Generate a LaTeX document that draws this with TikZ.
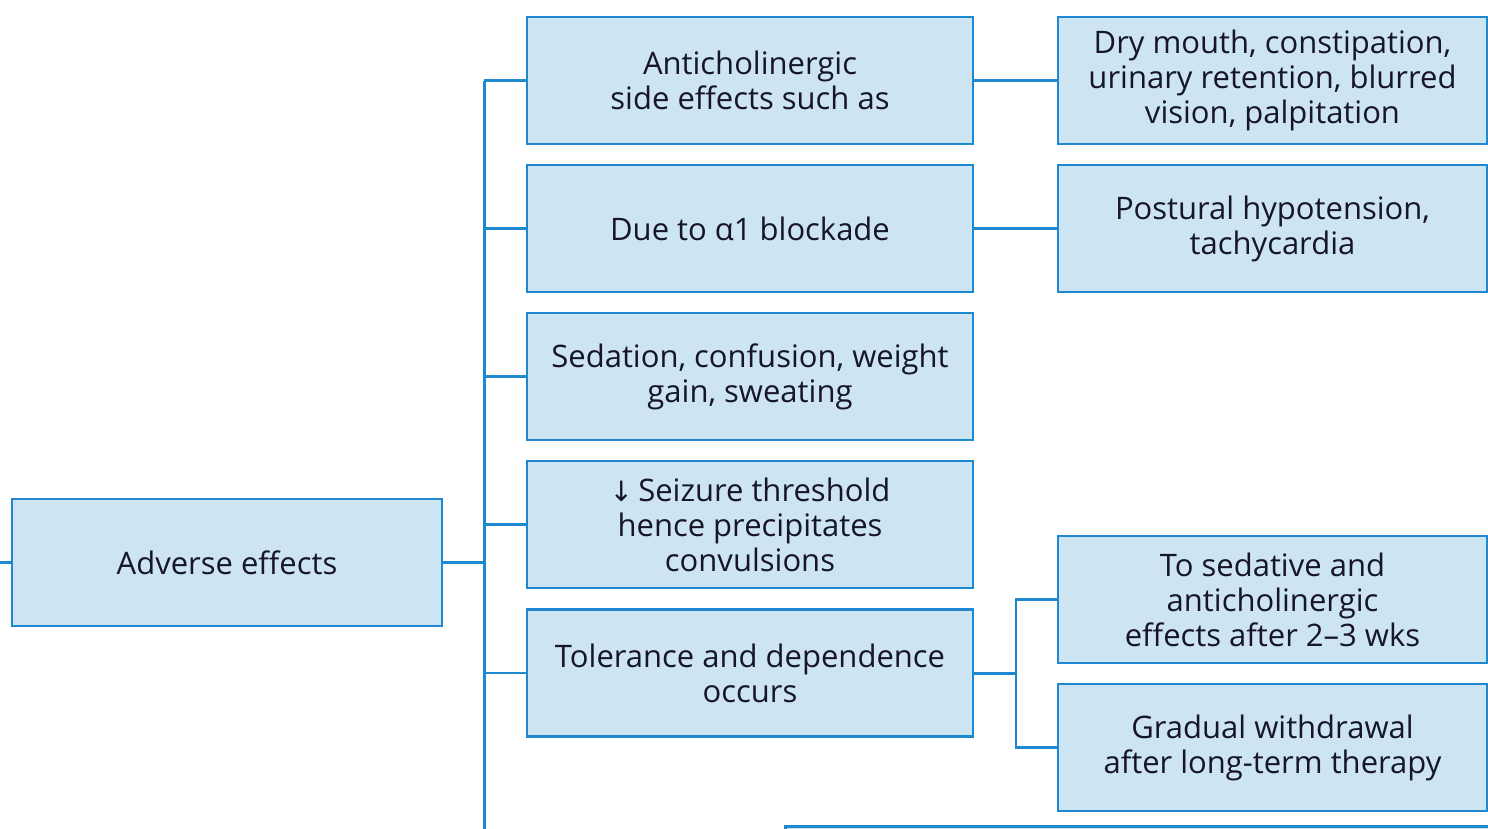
\documentclass[tikz,border=0pt]{standalone}
\usepackage{fontspec}
\setmainfont{Open Sans}
\newfontfamily\arrowfont{DejaVu Sans}
\begin{document}
\definecolor{boxfill}{RGB}{205,228,243}
\definecolor{boxline}{RGB}{30,136,208}
\definecolor{ink}{RGB}{22,22,40}
\begin{tikzpicture}[x=1pt,y=-1pt,
  item/.style={draw=boxline, fill=boxfill, line width=2.6pt, minimum height=127pt,
    inner sep=0pt, align=center, font=\fontsize{31}{35}\selectfont, text=ink},
  midbox/.style={item, minimum width=446pt},
  rightbox/.style={item, minimum width=429pt},
  link/.style={draw=boxline, line width=2.4pt},
  trunk/.style={draw=boxline, line width=3pt}]
\useasboundingbox (0,0) rectangle (1488,828);
\clip (0,0) rectangle (1488,828);

% root
\node[item, minimum width=430pt] (root) at (227,562.5) {Adverse effects};
\coordinate (stub) at (0,562.5);

% middle column
\node[midbox] (m1) at (750,80.5) {Anticholinergic\\side effects such as};
\node[midbox] (m2) at (750,228.5) {Due to α1 blockade};
\node[midbox] (m3) at (750,376.5) {Sedation, confusion, weight\\gain, sweating};
\node[midbox] (m4) at (750,524.5) {{\arrowfont\fontsize{28}{35}\selectfont↓}\,Seizure threshold\\hence precipitates\\convulsions};
\node[midbox] (m5) at (750,673) {Tolerance and dependence\\occurs};

% right column
\node[rightbox] (r1) at (1272.5,80.5) {Dry mouth, constipation,\\urinary retention, blurred\\vision, palpitation};
\node[rightbox] (r2) at (1272.5,228.5) {Postural hypotension,\\tachycardia};
\node[rightbox] (r3) at (1272.5,599.5) {To sedative and\\anticholinergic\\effects after 2–3 wks};
\node[rightbox] (r4) at (1272.5,747.5) {Gradual withdrawal\\after long-term therapy};

% partially visible box along the bottom edge
\node[item, minimum width=706pt, anchor=north west] (r5) at (784,825) {};

% trunk and branches
\coordinate (ttop) at (484,80.5);
\coordinate (tbot) at (484,840);
\draw[link] (stub) -- (root.west);
\draw[trunk] (root.east) -- (484,562.5);
\draw[trunk] (ttop) -- (tbot);
\foreach \n in {m1,m2,m3,m4,m5}
  \draw[link] (ttop |- \n.west) -- (\n.west);

\draw[link] (m1.east) -- (r1.west);
\draw[link] (m2.east) -- (r2.west);

\coordinate (fork) at (1016,673);
\draw[trunk] (m5.east) -- (fork);
\draw[link] (r3.west) -| (fork) |- (r4.west);
\end{tikzpicture}
\end{document}
